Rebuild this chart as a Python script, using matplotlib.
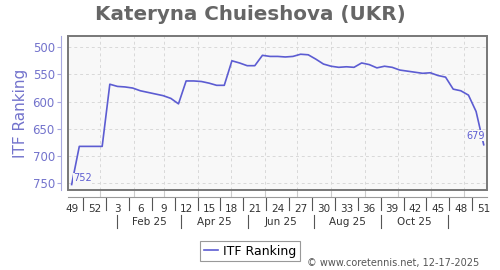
import matplotlib
matplotlib.use("Agg")
import matplotlib.pyplot as plt
import matplotlib.transforms as mtransforms
from matplotlib.patches import Rectangle
import pandas as pd

# weekly ITF ranking, week 49/2024 .. week 51/2025
weeks = [49, 50, 51, 52] + list(range(1, 52))
ranking = [
    752, 682, 682, 682, 682, 568, 572, 573, 575, 580,
    583, 586, 589, 594, 604, 562, 562, 563, 566, 570,
    570, 525, 529, 534, 534, 515, 517, 517, 518, 517,
    513, 514, 522, 531, 535, 537, 536, 537, 529, 532,
    538, 535, 537, 542, 544, 546, 548, 547, 552, 555,
    577, 580, 588, 618, 679,
]
month_labels = ["Feb 25", "Apr 25", "Jun 25", "Aug 25", "Oct 25"]
y_ticks = [500, 550, 600, 650, 700, 750]

LINE = "#5c5cd2"
LAV = "#7373cc"
BG = "#f8f8f8"

x = list(range(len(weeks)))

# month positions in "week index" units (index 0 ~ 2024-12-06)
start = pd.Timestamp("2024-12-06")
month_starts = pd.date_range("2025-01-01", "2025-12-01", freq="MS")
month_pos = [(d - start).days / 7 for d in month_starts]
# separators in the month row sit mid-way between odd month starts
sep_pos = [(month_pos[i] + month_pos[i + 1]) / 2 for i in range(0, 12, 2)]
lab_pos = [(sep_pos[i] + sep_pos[i + 1]) / 2 for i in range(len(month_labels))]

fig = plt.figure(figsize=(5, 2.7), dpi=100)
ax = fig.add_axes([68 / 500, 80 / 270, 419 / 500, 154.3 / 270])
ax.set_facecolor(BG)

ax.plot(x, ranking, color=LINE, lw=1.2, zorder=3)

ax.set_xlim(-0.48, 54.43)
ax.set_ylim(762, 479)

# frame
ax.add_patch(Rectangle((0, 0), 1, 1, transform=ax.transAxes, fill=False,
                       edgecolor="#777777", lw=1.4, zorder=5, clip_on=False))
for s in ["top", "right"]:
    ax.spines[s].set_visible(False)
ax.spines["left"].set_position(("outward", 5))
ax.spines["left"].set_color("#a8a8e0")
ax.spines["bottom"].set_position(("outward", 5))
ax.spines["bottom"].set_color("#999999")

# y axis
ax.set_yticks(y_ticks)
ax.tick_params(axis="y", colors="#a8a8e0", labelcolor=LAV, labelsize=8.5,
               length=3, width=0.8, pad=1.5)

# x axis: month gridlines as major ticks, week numbers as minor labels
ax.set_xticks(month_pos)
ax.set_xticklabels([])
ax.tick_params(axis="x", which="major", direction="in", length=5,
               color="#cccccc", width=0.8)
ax.set_xticks(x[::3], [str(w) for w in weeks[::3]], minor=True)
ax.tick_params(axis="x", which="minor", length=0, pad=5,
               labelsize=7.5, labelcolor="#333333")

ax.grid(True, which="major", color="#d9d9d9", ls=(0, (3, 3)), lw=0.7)

trans = mtransforms.blended_transform_factory(ax.transData, ax.transAxes)
for i in range(0, len(x) - 3, 3):
    ax.plot([i + 1.5, i + 1.5], [-0.055, -0.13], transform=trans,
            color="#555555", lw=0.8, clip_on=False)
for p in sep_pos:
    ax.plot([p, p], [-0.165, -0.245], transform=trans,
            color="#555555", lw=0.8, clip_on=False)
for p, lab in zip(lab_pos, month_labels):
    ax.text(p, -0.205, lab, transform=trans, ha="center", va="center",
            fontsize=7.5, color="#333333")

# first / last values
ax.annotate(str(ranking[0]), (x[0], ranking[0]), xytext=(1, 1),
            textcoords="offset points", ha="left", va="bottom",
            fontsize=7, color=LINE, zorder=4,
            bbox=dict(facecolor=BG, edgecolor="none", pad=0.3))
ax.annotate(str(ranking[-1]), (x[-1], ranking[-1]), xytext=(1, 3),
            textcoords="offset points", ha="right", va="bottom",
            fontsize=7, color=LINE, zorder=4,
            bbox=dict(facecolor=BG, edgecolor="none", pad=0.3))

fig.text(0.5, 1 - 14 / 270, "Kateryna Chuieshova (UKR)", ha="center",
         va="center", fontsize=14.3, fontweight="bold", color="#666666")
fig.text(21 / 500, 1 - 113 / 270, "ITF Ranking", rotation=90, ha="center",
         va="center", fontsize=11, color=LAV)

leg = fig.legend(["ITF Ranking"], loc="center",
                 bbox_to_anchor=(250 / 500, 1 - 251 / 270), fontsize=9,
                 handlelength=1.1, handletextpad=0.4, fancybox=False,
                 framealpha=1, edgecolor="#999999", borderpad=0.3)
leg.get_frame().set_linewidth(0.8)

fig.text(479 / 500, 1 - 263 / 270, "© www.coretennis.net, 12-17-2025",
         ha="right", va="center", fontsize=7, color="#555555")

fig.savefig("out.png", dpi=100)
